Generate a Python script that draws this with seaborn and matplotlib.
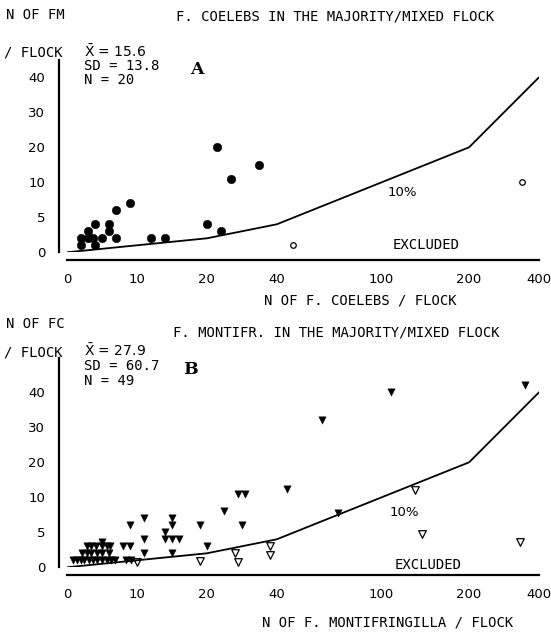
import numpy as np
import pandas as pd
import matplotlib
matplotlib.use("Agg")
import matplotlib.pyplot as plt
import seaborn as sns

# ---------------- data ----------------
# Panel A: F. coelebs in the majority/mixed flock
a_x = [2, 2, 3, 3, 4, 3.7, 4, 5, 6, 6, 7, 7, 9, 12, 14, 20, 24, 23, 27, 35]
a_y = [1, 2, 3, 2, 4, 2, 1, 2, 3, 4, 6, 2, 7, 2, 2, 4, 3, 20, 11, 15]
a_excl_x = [49, 350]
a_excl_y = [1, 10]

# Panel B: F. montifringilla in the majority/mixed flock
b_x = [0.8, 1.4, 2.0, 2.5, 3.1, 3.7, 4.3, 5.0, 5.7, 6.3, 6.9, 8.5, 9.1,
       2.2, 2.8, 3.4, 4.3, 5.0, 6.0,
       2.8, 3.5, 4.2, 5.0, 5.7, 6.2, 5.0,
       8, 9, 9, 11, 11, 11,
       14, 15, 16, 14, 15, 15, 15, 19, 20,
       25, 29, 31, 30, 46, 75, 66, 111, 359]
b_y = [1, 1, 1, 1, 1, 1, 1, 1, 1, 1, 1, 1, 1,
       2, 2, 2, 2, 2, 2,
       3, 3, 3, 3, 3, 3, 3.6,
       3, 3, 6, 7, 4, 2,
       4, 4, 4, 5, 6, 7, 2, 6, 3,
       8, 11, 11, 6, 12.3, 7.8, 32, 40, 42]
b_excl_x = [10, 19, 28, 29, 38, 38, 138, 146, 347]
b_excl_y = [0.8, 0.9, 2, 0.8, 3, 1.8, 12, 4.7, 3.6]

# 10 % reference line
line_x = [0, 20, 40, 100, 200, 400]
line_y = [0, 2, 4, 10, 20, 40]

x_major = [0, 10, 20, 40, 100, 200, 400]
x_minor = [5, 15, 30, 60, 80, 120, 140, 160, 180, 250, 300, 350]
y_major = [0, 5, 10, 20, 30, 40]

# ---------------- scales ----------------
X_BREAKS = [0, 20, 40, 100, 200, 400]
X_UNITS = [0, 140, 210, 315, 402.5, 472.5]
Y_BREAKS = [0, 10, 60]
Y_UNITS = [0, 70, 245]


def make_pw(xb, ub):
    xb = np.asarray(xb, float)
    ub = np.asarray(ub, float)

    def build(src, dst):
        s0 = (dst[1] - dst[0]) / (src[1] - src[0])
        s1 = (dst[-1] - dst[-2]) / (src[-1] - src[-2])

        def f(v):
            v = np.asarray(v, float)
            out = np.interp(v, src, dst)
            out = np.where(v < src[0], dst[0] + (v - src[0]) * s0, out)
            out = np.where(v > src[-1], dst[-1] + (v - src[-1]) * s1, out)
            return out
        return f
    return build(xb, ub), build(ub, xb)


xf = make_pw(X_BREAKS, X_UNITS)
yf = make_pw(Y_BREAKS, Y_UNITS)

sns.set_theme(style="white")
plt.rcParams["font.family"] = ["DejaVu Sans"]

W, H = 551, 635
fig = plt.figure(figsize=(W / 100, H / 100), dpi=100)
fig.patch.set_facecolor("white")

MONO = "DejaVu Sans Mono"


def ftxt(x, y, s, **kw):
    kw.setdefault("family", MONO)
    kw.setdefault("fontsize", 10)
    kw.setdefault("va", "center")
    kw.setdefault("ha", "left")
    kw.setdefault("color", "black")
    fig.text(x / W, 1 - y / H, s, **kw)


def make_panel(y0_px, ytop_px, pts_x, pts_y, ex_x, ex_y, marker, emarker,
               fsize, esize):
    left, right = 67, 539
    ytop_val = float(yf[1](y0_px - ytop_px))
    ax = fig.add_axes([left / W, 1 - y0_px / H, (right - left) / W,
                       (y0_px - ytop_px) / H])
    ax.set_xscale("function", functions=xf)
    ax.set_yscale("function", functions=yf)
    ax.set_xlim(0, 400)
    ax.set_ylim(0, ytop_val)
    ax.set_facecolor("none")

    sns.lineplot(x=line_x, y=line_y, ax=ax, color="black", lw=1.3,
                 sort=False, estimator=None)
    sns.scatterplot(x=pts_x, y=pts_y, ax=ax, marker=marker, s=fsize,
                    color="black", edgecolor="black", linewidth=0.3,
                    clip_on=False)
    sns.scatterplot(x=ex_x, y=ex_y, ax=ax, marker=emarker, s=esize,
                    facecolor="white", edgecolor="black", linewidth=0.9,
                    clip_on=False)

    for side in ("top", "right"):
        ax.spines[side].set_visible(False)
    off = 8 * 72 / 100
    ax.spines["left"].set_position(("outward", off))
    ax.spines["bottom"].set_position(("outward", off))
    ax.spines["left"].set_bounds(0, ytop_val)
    ax.spines["bottom"].set_bounds(0, 400)
    for side in ("left", "bottom"):
        ax.spines[side].set_color("black")
        ax.spines[side].set_linewidth(1.6)

    ax.set_xticks(x_major)
    ax.set_xticklabels([str(v) for v in x_major])
    ax.set_xticks(x_minor, minor=True)
    ax.set_yticks(y_major + [ytop_val])
    ax.set_yticklabels([str(v) for v in y_major] + [""])
    ax.tick_params(axis="both", which="both", direction="out", color="black",
                   width=1.3, labelsize=9.5, labelcolor="black")
    ax.tick_params(axis="y", length=6, pad=4)
    ax.tick_params(axis="x", which="both", length=5.5, pad=4)
    ax.set_xlabel("")
    ax.set_ylabel("")
    ax.grid(False)
    return ax


axA = make_panel(252.3, 60, a_x, a_y, a_excl_x, a_excl_y, "o", "o", 38, 16)
axB = make_panel(567.3, 358.3, b_x, b_y, b_excl_x, b_excl_y, "v", "v", 28, 30)

# ---------------- texts panel A ----------------
ftxt(6, 15, "N OF FM")
ftxt(4, 53, "/ FLOCK")
ftxt(176, 16, "F. COELEBS IN THE MAJORITY/MIXED FLOCK")
ftxt(84, 52, r"$\bar{\mathrm{X}}$ = 15.6", family="DejaVu Sans", fontsize=10)
ftxt(84, 66, "SD = 13.8")
ftxt(84, 80, "N = 20")
ftxt(190, 70, "A", family="DejaVu Serif", weight="bold", fontsize=12.5)
ftxt(402, 192, "10%", ha="center", family="DejaVu Sans", fontsize=9.5)
ftxt(426, 245, "EXCLUDED", ha="center")
ftxt(264, 300, "N OF F. COELEBS / FLOCK")

# ---------------- texts panel B ----------------
ftxt(6, 324, "N OF FC")
ftxt(4, 352, "/ FLOCK")
ftxt(173, 332, "F. MONTIFR. IN THE MAJORITY/MIXED FLOCK")
ftxt(84, 351, r"$\bar{\mathrm{X}}$ = 27.9", family="DejaVu Sans", fontsize=10)
ftxt(84, 366, "SD = 60.7")
ftxt(84, 381, "N = 49")
ftxt(183, 370, "B", family="DejaVu Serif", weight="bold", fontsize=12.5)
ftxt(404, 512, "10%", ha="center", family="DejaVu Sans", fontsize=9.5)
ftxt(428, 565, "EXCLUDED", ha="center")
ftxt(262, 623, "N OF F. MONTIFRINGILLA / FLOCK")

fig.savefig("out.png", dpi=100, facecolor="white")
